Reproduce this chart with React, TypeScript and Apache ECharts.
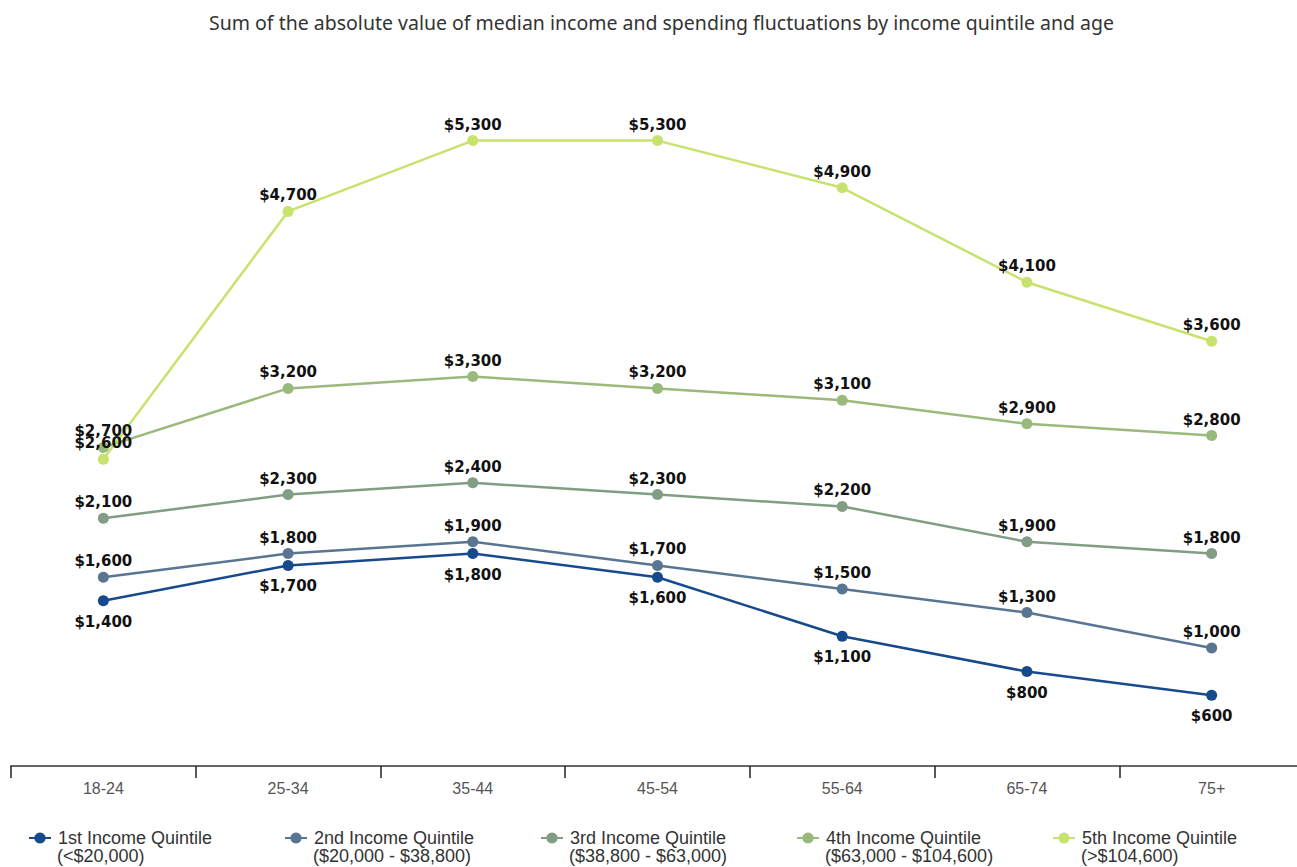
import React, { useEffect, useRef } from "react";
import * as echarts from "echarts";

const ageGroups = ["18-24", "25-34", "35-44", "45-54", "55-64", "65-74", "75+"];

const seriesNames = [
  "1st Income Quintile",
  "2nd Income Quintile",
  "3rd Income Quintile",
  "4th Income Quintile",
  "5th Income Quintile",
];

const incomeRanges = [
  "(<$20,000)",
  "($20,000 - $38,800)",
  "($38,800 - $63,000)",
  "($63,000 - $104,600)",
  "(>$104,600)",
];

const quintile1 = [1400, 1700, 1800, 1600, 1100, 800, 600];
const quintile2 = [1600, 1800, 1900, 1700, 1500, 1300, 1000];
const quintile3 = [2100, 2300, 2400, 2300, 2200, 1900, 1800];
const quintile4 = [2700, 3200, 3300, 3200, 3100, 2900, 2800];
const quintile5 = [2600, 4700, 5300, 5300, 4900, 4100, 3600];

const seriesValues = [quintile1, quintile2, quintile3, quintile4, quintile5];
const seriesColors = ["#174a8c", "#587592", "#819e84", "#9ab97c", "#c8e26e"];
const labelSides = ["bottom", "top", "top", "top", "top"];

const money = (v: number) => "$" + v.toLocaleString("en-US");

// The plot runs slightly past the right edge of the visible frame, so the
// chart canvas is a bit wider than the clipping wrapper around it.
const FRAME_W = 1297;
const FRAME_H = 867;
const CANVAS_W = 1312;

export default function App() {
  const ref = useRef<HTMLDivElement>(null);

  useEffect(() => {
    if (!ref.current) return;
    const chart = echarts.init(ref.current, undefined, { renderer: "svg" });

    const legendLeft = 28;
    const legendStep = 256;
    const legendTop = 829;

    chart.setOption({
      animation: false,
      backgroundColor: "#ffffff",
      title: {
        text: "Sum of the absolute value of median income and spending fluctuations by income quintile and age",
        left: 204,
        top: 7,
        textStyle: {
          fontFamily: "Noto Sans",
          fontSize: 19.5,
          fontWeight: "normal",
          color: "#333333",
        },
      },
      grid: { left: 11, width: 1293, top: 58, bottom: 101, containLabel: false },
      xAxis: {
        type: "category",
        data: ageGroups,
        boundaryGap: true,
        axisLine: { lineStyle: { color: "#666666", width: 2 } },
        axisTick: { show: true, length: 12, lineStyle: { color: "#222222", width: 1.5 } },
        axisLabel: {
          margin: 14,
          color: "#555555",
          fontFamily: "Liberation Sans",
          fontSize: 16,
        },
      },
      yAxis: {
        type: "value",
        min: 0,
        max: 6000,
        show: false,
        splitLine: { show: false },
      },
      legend: seriesNames.map((name, i) => ({
        data: [name],
        left: legendLeft + legendStep * i,
        top: legendTop,
        itemWidth: 22,
        itemHeight: 14,
        itemGap: 0,
        padding: 0,
        selectedMode: false,
        textStyle: {
          fontFamily: "Liberation Sans",
          fontSize: 18,
          color: "#333333",
          padding: [0, 0, 0, 2],
        },
      })),
      graphic: incomeRanges.map((range, i) => ({
        type: "text",
        left: legendLeft + legendStep * i + 29,
        top: legendTop + 18,
        style: {
          text: range,
          fontFamily: "Liberation Sans",
          fontSize: 18,
          fill: "#333333",
        },
      })),
      series: seriesNames.map((name, i) => ({
        name,
        type: "line",
        data: seriesValues[i],
        color: seriesColors[i],
        symbol: "circle",
        symbolSize: 11,
        lineStyle: { width: 2.5, color: seriesColors[i] },
        itemStyle: { color: seriesColors[i] },
        label: {
          show: true,
          position: labelSides[i],
          distance: labelSides[i] === "bottom" ? 8 : 3,
          formatter: (p: any) => money(p.value),
          fontFamily: "DejaVu Sans",
          fontWeight: "bold",
          fontSize: 15,
          color: "#111111",
        },
      })),
    });

    return () => chart.dispose();
  }, []);

  return (
    <div
      style={{
        position: "fixed",
        left: 0,
        top: 0,
        width: FRAME_W,
        height: FRAME_H,
        overflow: "hidden",
        background: "#ffffff",
      }}
    >
      <div ref={ref} style={{ width: CANVAS_W, height: FRAME_H }} />
    </div>
  );
}
